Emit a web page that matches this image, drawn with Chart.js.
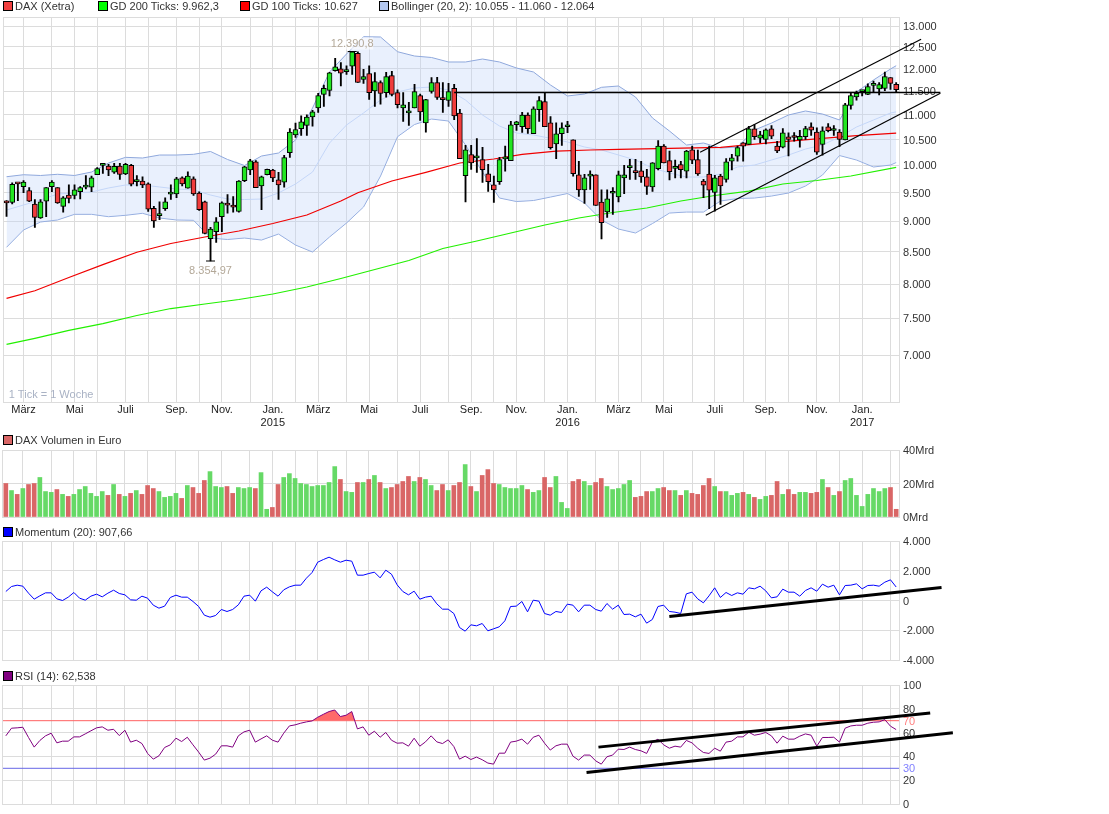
<!DOCTYPE html>
<html lang="de">
<head>
<meta charset="utf-8">
<title>DAX (Xetra)</title>
<script src="https://cdn.jsdelivr.net/npm/chart.js@4/dist/chart.umd.min.js"></script>
<style>
  html, body { margin: 0; background: #fff; }
  body { position: relative; width: 1109px; height: 814px; overflow: hidden; font: 11px "Liberation Sans", Arial, sans-serif; color: #333; }
  canvas { position: absolute; left: 0; }
  .leg { position: absolute; line-height: 12px; white-space: nowrap; z-index: 2; }
  .leg i { position: absolute; left: -12px; top: 1px; width: 8px; height: 8px; border: 1px solid #000; }
</style>
</head>
<body>
<div class="leg" style="left:15px;top:0"><i style="background:#f04040"></i>DAX (Xetra)</div>
<div class="leg" style="left:110px;top:0"><i style="background:#00ff00"></i>GD 200 Ticks: 9.962,3</div>
<div class="leg" style="left:252px;top:0"><i style="background:#ff0000"></i>GD 100 Ticks: 10.627</div>
<div class="leg" style="left:391px;top:0"><i style="background:#b4c8f0"></i>Bollinger (20, 2): 10.055 - 11.060 - 12.064</div>
<div class="leg" style="left:15px;top:434px"><i style="background:#d96666"></i>DAX Volumen in Euro</div>
<div class="leg" style="left:15px;top:526px"><i style="background:#0000ff"></i>Momentum (20): 907,66</div>
<div class="leg" style="left:15px;top:670px"><i style="background:#800080"></i>RSI (14): 62,538</div>

<!-- price canvas starts 2px further left: the labelled x axis keeps 5px of room at its left edge -->
<canvas id="priceChart" width="1111" height="420" style="top:10px;left:-2px"></canvas>
<canvas id="volChart" width="1109" height="83" style="top:442px"></canvas>
<canvas id="momChart" width="1109" height="135" style="top:533px"></canvas>
<canvas id="rsiChart" width="1109" height="135" style="top:677px"></canvas>

<script>
/* ── CANDLES (one per week, index = week number) ────────── */
const opens = [
  9325,9330,9665,9610,9540,9300,9060,9350,9610,9590,
  9260,9460,9450,9520,9600,9600,9830,10000,9990,9875,
  9990,9840,10000,9700,9710,9660,9225,9100,9220,9475,
  9480,9770,9580,9750,9495,9340,8715,8830,9080,9295,
  9250,9170,9720,9915,10070,9620,9830,9915,9735,9690,
  10245,10590,10715,10780,10955,11145,11430,11515,11950,11995,
  11930,12053,12350,11755,11885,11505,11690,11470,11840,11470,
  11145,11040,11145,11405,10835,11495,11690,11325,11300,11560,
  11035,9810,10205,10145,10110,9845,9640,9700,10125,10090,
  10795,10755,10995,10615,11105,11275,10835,10415,10615,10755,
  10495,9825,9550,9800,9825,9335,9165,9490,9425,9770,
  9960,9900,9900,9790,9605,9940,10370,10090,9945,10015,
  9895,10300,10110,9710,9840,9505,9800,9740,10080,10175,
  10435,10405,10715,10525,10500,10715,10370,10350,10555,10545,
  10490,10555,10755,10650,10405,10755,10680,10650,10490,11195,
  11375,11490,11430,11625,11550,11560,11800,11650];
const highs = [
  9362,9680,9680,9720,9590,9380,9380,9590,9720,9590,
  9430,9640,9640,9610,9810,9800,9960,10020,10020,10040,
  10040,10040,10020,9810,9790,9680,9260,9340,9410,9640,
  9780,9790,9880,9790,9515,9350,8900,9065,9340,9465,
  9430,9720,9985,10115,10090,9800,9930,9925,9870,10190,
  10720,10830,10980,11000,11095,11455,11630,11915,12230,12135,
  12060,12390.8,12385,11980,12060,11910,11725,11915,11940,11530,
  11470,11260,11650,11435,11325,11800,11805,11690,11670,11650,
  11115,10385,10385,10520,10345,10020,9800,10155,10370,10865,
  10865,11050,11040,11165,11385,11470,10965,10835,10835,10865,
  10495,10080,9835,9900,9825,9550,9550,9590,9895,10000,
  10115,10115,10080,9925,10055,10480,10400,10275,10100,10080,
  10290,10370,10295,9740,10370,9815,9835,10130,10210,10370,
  10440,10765,10800,10665,10715,10780,10465,10720,10635,10640,
  10685,10765,10835,10735,10755,10820,10780,10700,11240,11470,
  11500,11520,11660,11720,11690,11920,11800,11690];
const lows = [
  9087,9300,9360,9500,9340,8900,9050,9080,9520,9310,
  9160,9320,9390,9390,9570,9520,9830,9850,9810,9850,
  9740,9830,9620,9620,9590,9170,8900,9030,9190,9380,
  9410,9620,9580,9450,9190,8790,8354.97,8650,8830,9140,
  9160,9160,9700,9830,9590,9200,9825,9700,9380,9600,
  10150,10540,10580,10580,10765,11050,11175,11400,11940,11615,
  11870,11870,11690,11670,11325,11175,11220,11370,11400,11145,
  10865,10780,11145,10885,10645,11455,11325,11050,11175,10900,
  10130,9335,9925,9870,9685,9525,9330,9650,9895,10090,
  10680,10640,10620,10615,10865,10755,10310,10130,10385,10635,
  9800,9435,9310,9560,9275,8710,9070,9120,9335,9485,
  9740,9740,9685,9470,9525,9915,10050,9730,9770,9770,
  9770,10035,9815,9410,9220,9175,9295,9690,9915,10080,
  10080,10405,10500,10440,10415,10515,10245,10335,10180,10465,
  10350,10500,10580,10210,10195,10650,10580,10360,10490,11115,
  11305,11400,11425,11485,11420,11510,11540,11470];
const closes = [
  9320,9650,9660,9690,9350,9070,9340,9590,9690,9320,
  9410,9400,9550,9590,9605,9770,9940,10005,9915,9985,
  9835,10020,9655,9710,9640,9210,9010,9110,9340,9485,
  9750,9660,9800,9480,9200,8800,8870,8995,9320,9280,
  9245,9710,9975,10085,9590,9790,9925,9770,9640,10150,
  10650,10700,10855,10955,11060,11405,11560,11905,12040,11895,
  11965,12385,11690,11820,11470,11710,11450,11820,11430,11210,
  11210,11045,11490,11060,11320,11690,11365,11320,11490,10975,
  10130,10300,10050,10150,9920,9700,9550,10110,10130,10795,
  10855,10995,10715,11125,11300,10755,10340,10615,10735,10760,
  9845,9550,9770,9805,9275,8980,9390,9515,9825,9825,
  9965,9865,9785,9615,10050,10370,10050,9885,9950,9920,
  10275,10100,9840,9635,9545,9770,9620,10070,10145,10340,
  10370,10715,10555,10595,10695,10565,10275,10635,10500,10540,
  10565,10720,10685,10255,10675,10675,10685,10500,11210,11405,
  11455,11495,11600,11630,11645,11820,11670,11535];

/* ── BOLLINGER (read every third week) ──────────────────── */
const bollWeeks = [0,3,6,9,12,15,18,21,24,27,30,33,36,39,42,45,48,51,54,57,60,63,66,69,72,75,78,81,84,87,90,93,96,99,102,105,108,111,114,117,120,123,126,129,132,135,138,141,144,147,150,153,156,157];
const bollUpper = [9790,9827,9813,9835,9813,9877,10046,10154,10141,10198,10198,10212,10266,10113,9999,10179,10237,10490,11141,11922,12333,12741,12734,12386,12286,12252,12149,12149,12217,12149,12012,11922,11634,11396,11439,11584,11612,11374,10934,10669,10392,10431,10334,10353,10690,10831,10996,11079,11016,10893,11482,11744,11990,12064];
const bollMiddle = [9196,9283,9371,9477,9495,9513,9585,9639,9639,9603,9567,9549,9459,9388,9379,9388,9495,9657,9877,10431,10791,11037,11310,11482,11569,11590,11525,11310,10996,10770,10630,10590,10524,10451,10353,10295,10198,10103,9952,9859,9785,9785,9840,9971,10008,10103,10198,10314,10392,10550,10750,10893,11037,11060];
const bollLower = [8573,8857,8991,9025,9122,9122,9081,9105,9139,9059,9025,9020,8724,8700,8724,8691,8790,8610,8497,8741,8974,9248,9803,10556,10801,10913,10872,10392,9877,9406,9344,9362,9423,9486,9318,9025,8873,8807,8965,9144,9161,9161,9353,9397,9406,9441,9495,9621,9822,10189,10103,9971,10008,10055];

/* ── MOVING AVERAGES ────────────────────────────────────── */
const ma100Weeks = [0,5,11,17,23,29,35,41,47,53,59,62,68,74,80,86,91,97,103,108,117,126,135,144,150,157];
const ma100 = [7788,7900,8099,8297,8493,8634,8741,8840,8965,9110,9353,9500,9712,9871,10046,10122,10212,10275,10295,10309,10328,10347,10437,10524,10576,10627];
const ma200Weeks = [0,5,11,17,23,29,35,41,47,53,59,65,71,77,83,89,95,101,107,113,119,125,131,137,143,149,157];
const ma200 = [7142,7224,7333,7427,7540,7640,7705,7771,7852,7956,8084,8222,8363,8553,8675,8807,8940,9059,9153,9231,9353,9450,9530,9657,9721,9803,9962.3];

/* ── VOLUME, in Mrd, 1 = green bar, 0 = red bar ─────────── */
const volume = [
  20.0,15.8,13.5,17.0,19.4,20.0,23.6,15.2,14.7,16.4,
  13.5,12.3,13.5,16.4,18.2,14.1,12.3,15.2,12.9,19.4,
  13.5,12.3,14.1,15.8,13.5,18.8,17.0,15.2,11.7,12.3,
  14.1,11.1,18.8,17.6,14.1,21.8,27.1,18.2,17.6,18.2,
  14.1,17.6,17.0,17.6,17.0,26.5,4.6,5.7,19.4,23.6,
  25.9,23.0,20.0,19.4,18.2,18.8,18.8,20.6,30.1,22.4,
  15.2,14.7,20.6,20.6,22.4,24.8,20.6,17.0,17.6,19.4,
  21.2,24.2,21.2,23.6,22.4,18.8,15.8,19.4,15.8,18.8,
  20.6,31.3,18.2,15.2,24.8,28.3,20.0,19.4,17.6,17.0,
  17.0,18.8,16.4,14.7,15.8,23.6,17.6,24.2,8.7,5.1,
  21.2,22.4,21.2,18.8,20.6,23.0,18.2,16.4,17.0,19.4,
  21.8,11.7,12.3,15.2,15.2,17.0,17.6,15.8,15.8,12.9,
  15.8,14.1,13.5,18.8,23.0,18.2,15.2,15.2,12.9,14.1,
  14.7,13.5,11.7,10.5,12.3,12.9,21.2,13.5,16.4,13.5,
  14.7,14.7,14.1,14.7,22.4,17.6,12.9,15.2,21.8,23.0,
  12.9,6.3,13.5,17.0,15.2,17.0,17.6,4.6];
const volumeUp = [
  0,1,0,1,0,0,1,1,1,0,
  1,0,1,1,1,1,1,1,0,1,
  0,1,0,1,0,0,0,1,1,1,
  1,0,1,0,0,0,1,1,1,0,
  0,1,1,1,0,1,1,0,0,1,
  1,1,1,1,1,1,1,1,1,0,
  1,1,0,1,0,1,0,1,0,0,
  0,0,1,0,1,1,0,0,1,0,
  0,1,0,1,0,0,0,1,1,1,
  1,1,0,1,1,0,0,1,1,1,
  0,0,1,1,0,0,1,1,1,1,
  1,0,0,0,1,1,0,0,1,0,
  1,0,0,0,0,1,0,1,1,1,
  0,1,0,1,1,0,0,1,0,0,
  1,1,0,0,1,0,1,0,1,1,
  1,1,1,1,1,1,0,0];

/* ── MOMENTUM + RSI ─────────────────────────────────────── */
const momentum = [
  605,941,1030,963,493,90,314,515,515,112,
  0,224,538,157,22,291,426,246,493,694,
  470,381,45,22,291,157,-314,-515,-381,202,
  358,224,224,-67,-403,-986,-1120,-1008,-605,-739,
  -605,-291,291,358,-45,650,896,582,291,717,
  918,1030,1030,1501,1882,2576,2755,2912,2733,2576,
  2710,2643,1702,1702,1814,1904,1523,2038,1770,1053,
  605,381,627,90,224,291,-224,-582,-582,-874,
  -1814,-2061,-1635,-1702,-1546,-2038,-1904,-1770,-1366,-403,
  -381,-67,-762,22,-45,-874,-986,-739,-806,-246,
  -314,-762,-314,-314,-605,-717,-202,-582,-314,-941,
  -918,-1098,-918,-1523,-1277,-403,-314,-739,-784,-874,
  448,560,112,-157,314,851,202,538,336,515,
  426,851,784,963,650,179,246,762,560,560,
  291,672,851,627,1098,896,1030,381,1008,1030,
  1120,784,1008,1030,963,1232,1389,907.66];
const rsi = [
  57.3,63.7,64,64.5,55.9,47.8,53.4,57.3,59.5,51.4,
  52.8,52.8,56.4,56.4,58.9,61.5,64,64.8,62,62.8,
  57.5,62,52,53.6,50.8,42.5,37.7,40.5,47.5,49.7,
  55.3,52.5,56.1,49.7,43.6,36.9,38.5,41.9,48.9,48.9,
  47.8,57.3,60.6,62,52,54.7,57.3,53.6,52,59.5,
  65.6,66.5,67.9,69,69.8,72.9,75.4,77.7,79,73.5,
  74.6,77.7,63.1,64.8,57.8,61.2,56.1,60.1,53.6,51.1,
  51.4,48.6,55.3,48.6,52.2,57.3,52.2,50.8,53.9,48.3,
  37.7,40.2,37.4,39.4,37.2,34.4,33.5,42.7,42.7,52,
  52.8,54.5,50.3,56.1,57.8,51.1,45.3,48.9,50.3,50.3,
  40.2,36.9,41.1,41.1,36.3,33.5,39.7,41.1,46.1,45.8,
  47.8,45.8,44.7,42.5,52,54.5,49.7,46.9,48.6,47.8,
  53.4,51.4,46.9,43.3,42.5,46.9,44.4,52,52.8,56.4,
  56.4,60.3,57.8,58.7,60.1,57.3,51.1,57,54.5,54.5,
  57,58.9,57.8,48.6,55.9,55.9,56.1,52,63.7,65.6,
  66.2,66.2,67.9,68.7,69,70.9,65.4,62.538];

/* ── AXES ───────────────────────────────────────────────── */
const priceTicks = [13000,12500,12000,11500,11000,10500,10000,9500,9000,8500,8000,7500,7000];
const volTicks   = [40,20,0];
const momTicks   = [4000,2000,0,-2000,-4000];
const rsiTicks   = [100,80,70,60,40,30,20,0];
const rsiGrid    = [100,80,60,40,20,0];

// first week of every month, März 2014 … Feb. 2017
const monthWeeks = [3,8,12,16,21,25,30,34,38,43,47,51,55,60,64,69,73,78,82,86,90,95,99,104,108,112,116,121,125,130,134,138,143,147,151,156];
const monthLabels = ["März","","Mai","","Juli","","Sep.","","Nov.","",["Jan.","2015"],"","März","","Mai","","Juli","","Sep.","","Nov.","",["Jan.","2016"],"","März","","Mai","","Juli","","Sep.","","Nov.","",["Jan.","2017"],""];

/* ── DRAWN TREND LINES: [week, value] ───────────────────── */
const resistance   = [[79,11470],[164.8,11470]];
const channelTop   = [[122.4,10250],[161.4,12679]];
const channelBot   = [[123.4,9105],[164.8,11454]];
const momTrend     = [[117,-1076],[165,874]];
const rsiTrendTop  = [[104.5,47.8],[163,76.5]];
const rsiTrendBot  = [[102.4,26.5],[167,59.8]];

const extremes = [[36,8354.97,"8.354,97"],[61,12390.8,"12.390,8"]];
const weeks = opens.map((_, i) => i);

const GRID = "#dcdcdc";
const GREEN = "#22e622", RED = "#f03c3c";

Chart.defaults.font.family = "'Liberation Sans', Arial, sans-serif";
Chart.defaults.font.size = 11;
Chart.defaults.color = "#333";

/* ── HELPERS ────────────────────────────────────────────── */
function fmt(v) {
  const s = String(Math.abs(v)).replace(/\B(?=(\d{3})+$)/g, ".");
  return v < 0 ? "-" + s : s;
}

function pts(xs, ys) {
  return xs.map((x, i) => ({ x, y: ys[i] }));
}

function lineSet(data, color, width, extra) {
  return Object.assign({
    type: "line", data, borderColor: color, borderWidth: width,
    pointRadius: 0, tension: 0, fill: false
  }, extra || {});
}

function trend(line, width) {
  return lineSet(line.map(p => ({ x: p[0], y: p[1] })), "#000", width, { clip: false });
}

// no extra room for outer tick labels, the plot keeps its fixed box
function noPadding(s) {
  s.paddingLeft = 0;
  s.paddingRight = 0;
  s.paddingTop = 0;
  s.paddingBottom = 0;
}

// light grey box around each plot
const framePlugin = {
  id: "frame",
  beforeDatasetsDraw(chart) {
    const a = chart.chartArea, c = chart.ctx;
    c.save();
    c.strokeStyle = GRID;
    c.lineWidth = 1;
    c.strokeRect(Math.round(a.left) - 0.5, Math.round(a.top) + 0.5, Math.round(a.width) + 1, Math.round(a.height));
    c.restore();
  }
};

// texts inside the price panel
const notesPlugin = {
  id: "notes",
  afterDatasetsDraw(chart) {
    const c = chart.ctx, x = chart.scales.x, y = chart.scales.y;
    c.save();
    c.font = "11px 'Liberation Sans', Arial, sans-serif";
    c.textAlign = "center";
    c.textBaseline = "middle";
    extremes.forEach(e => {
      const px = x.getPixelForValue(e[0]);
      const py = y.getPixelForValue(e[1]) + (e[0] === 36 ? 10 : -8);
      c.fillStyle = "rgba(255,255,255,0.6)";
      c.fillRect(px - 21, py - 6, 42, 12);
      c.fillStyle = "#b3a898";
      c.fillText(e[2], px, py);
    });
    c.textAlign = "left";
    c.fillStyle = "#a9b2c4";
    c.fillText("1 Tick = 1 Woche", chart.chartArea.left + 5, chart.chartArea.bottom - 7);
    c.restore();
  }
};

function panel(id, datasets, opts) {
  const xTicks = opts.xLabels
    ? { display: true, autoSkip: false, maxRotation: 0, padding: 1, color: "#222", callback: v => monthLabels[monthWeeks.indexOf(v)] }
    : { display: false };
  return new Chart(document.getElementById(id), {
    type: "bar",
    data: { datasets },
    plugins: [framePlugin].concat(opts.plugins || []),
    options: {
      responsive: false,
      animation: false,
      events: [],
      layout: { padding: { left: 3, right: 0, top: opts.top, bottom: opts.bottom } },
      plugins: { legend: { display: false }, tooltip: { enabled: false } },
      scales: {
        x: {
          type: "linear", min: -0.5, max: 157.5, offset: false,
          grid: { color: GRID, offset: false, drawTicks: false },
          border: { display: false },
          ticks: xTicks,
          afterBuildTicks: s => { s.ticks = monthWeeks.map(v => ({ value: v })); },
          afterFit: s => { s.height = opts.xHeight || 0; noPadding(s); },
          afterUpdate: noPadding
        },
        y: Object.assign({
          position: "right",
          grid: { color: c => (opts.gridAt && !opts.gridAt.includes(c.tick.value)) ? "transparent" : GRID, drawTicks: false },
          border: { display: false },
          afterBuildTicks: s => { s.ticks = opts.yTicks.map(v => ({ value: v })); },
          afterFit: s => { s.width = 210; noPadding(s); },
          afterUpdate: noPadding
        }, opts.y)
      }
    }
  });
}

/* ── PRICE PANEL ────────────────────────────────────────── */
const isUp = weeks.map(i => closes[i] >= opens[i]);

panel("priceChart", [
  trend(resistance, 1.4),
  trend(channelTop, 1.2),
  trend(channelBot, 1.2),
  lineSet(extremes.map(e => ({ x: e[0], y: e[1] })), "#000", 1, {
    showLine: false, pointStyle: "line", pointRadius: 4.5, pointBorderColor: "#000", pointBorderWidth: 1.2
  }),
  {
    data: weeks.map(i => ({ x: i, y: [opens[i], closes[i]] })),
    backgroundColor: isUp.map(u => u ? GREEN : RED),
    borderColor: "#000", borderWidth: 1, borderSkipped: false,
    barThickness: 5, minBarLength: 2, grouped: false
  },
  {
    data: weeks.map(i => ({ x: i, y: [lows[i], highs[i]] })),
    backgroundColor: "#000", borderWidth: 0,
    barThickness: 1.2, grouped: false
  },
  lineSet(pts(ma100Weeks, ma100), "#f00000", 1.2),
  lineSet(pts(ma200Weeks, ma200), "#22f000", 1.2),
  lineSet(pts(bollWeeks, bollMiddle), "#c4d6f8", 1),
  lineSet(pts(bollWeeks, bollUpper), "#8fa8dc", 1, { fill: "+1", backgroundColor: "rgba(190,210,250,0.34)" }),
  lineSet(pts(bollWeeks, bollLower), "#8fa8dc", 1)
], {
  top: 7, bottom: 0, xHeight: 28, xLabels: true, yTicks: priceTicks, plugins: [notesPlugin],
  y: { type: "logarithmic", min: 6408, max: 13222, ticks: { padding: 4, labelOffset: 1, autoSkip: false, callback: v => fmt(v) } }
});

/* ── VOLUME PANEL ───────────────────────────────────────── */
panel("volChart", [
  {
    data: pts(weeks, volume),
    backgroundColor: volumeUp.map(u => u ? "#66d966" : "#d96666"),
    borderWidth: 0, barThickness: 4, grouped: false
  }
], {
  top: 8, bottom: 8, yTicks: volTicks,
  y: { min: 0, max: 40, ticks: { padding: 4, labelOffset: 1, callback: v => v + "Mrd" } }
});

/* ── MOMENTUM PANEL ─────────────────────────────────────── */
panel("momChart", [
  trend(momTrend, 3),
  lineSet(pts(weeks, momentum), "#0000ff", 1)
], {
  top: 8, bottom: 8, yTicks: momTicks,
  y: { min: -4000, max: 4000, ticks: { padding: 4, labelOffset: 1, callback: v => fmt(v) } }
});

/* ── RSI PANEL ──────────────────────────────────────────── */
panel("rsiChart", [
  trend(rsiTrendTop, 3),
  trend(rsiTrendBot, 3),
  lineSet(pts(weeks, rsi), "#800080", 1, {
    fill: { target: { value: 70 }, above: "#ff6a6a", below: "rgba(0,0,0,0)" }
  }),
  lineSet([{ x: -0.5, y: 70 }, { x: 157.5, y: 70 }], "#ff6666", 1),
  lineSet([{ x: -0.5, y: 30 }, { x: 157.5, y: 30 }], "#6666e6", 1)
], {
  top: 8, bottom: 8, yTicks: rsiTicks, gridAt: rsiGrid,
  y: {
    min: 0, max: 100,
    ticks: {
      padding: 4, labelOffset: 1, autoSkip: false,
      color: c => c.tick.value === 70 ? "#ff8080" : c.tick.value === 30 ? "#8080ff" : "#333",
      callback: v => String(v)
    }
  }
});
</script>
</body>
</html>
